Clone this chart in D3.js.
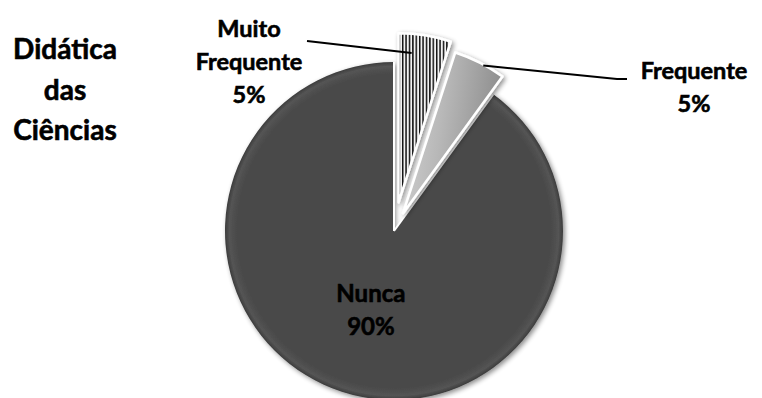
<!DOCTYPE html>
<html>
<head>
<meta charset="utf-8">
<script src="https://cdn.jsdelivr.net/npm/d3@7"></script>
<style>
  html, body { margin: 0; padding: 0; background: #fff; }
  svg { display: block; }
  text { font-family: Lato, "Open Sans", sans-serif; font-weight: 700; fill: #000;
         stroke: #000; stroke-width: 0.6px; }
</style>
</head>
<body>
<script>
// Data
const categories = ["Muito Frequente", "Frequente", "Nunca"];
const values = [5, 5, 90];
const percentLabels = ["5%", "5%", "90%"];
const titleLines = ["Didática", "das", "Ciências"];

const W = 762, H = 398;
const cx = 394, cy = 231, R = 169;
const explode = [29, 20, 0];

const svg = d3.select("body").append("svg").attr("width", W).attr("height", H);
const defs = svg.append("defs");

// soft drop shadow
const sh = defs.append("filter").attr("id", "shadow")
  .attr("x", "-20%").attr("y", "-20%").attr("width", "140%").attr("height", "140%");
sh.append("feGaussianBlur").attr("in", "SourceAlpha").attr("stdDeviation", 2.5).attr("result", "b");
sh.append("feOffset").attr("in", "b").attr("dx", 2).attr("dy", 2).attr("result", "o");
sh.append("feComponentTransfer").attr("in", "o").attr("result", "s")
  .append("feFuncA").attr("type", "linear").attr("slope", 0.45);
const m = sh.append("feMerge");
m.append("feMergeNode").attr("in", "s");
m.append("feMergeNode").attr("in", "SourceGraphic");

// vertical stripes
const pat = defs.append("pattern").attr("id", "stripes")
  .attr("patternUnits", "userSpaceOnUse").attr("width", 3.4).attr("height", 10);
pat.append("rect").attr("width", 3.4).attr("height", 10).attr("fill", "#f2f2f2");
pat.append("rect").attr("width", 1.5).attr("height", 10).attr("fill", "#111");

// dark slice with bevelled rim
const rg = defs.append("radialGradient").attr("id", "darkFill")
  .attr("gradientUnits", "userSpaceOnUse").attr("cx", 0).attr("cy", 0).attr("r", R);
[[0, "#4a4a4a"], [0.93, "#4a4a4a"], [0.975, "#545454"], [1, "#3c3c3c"]]
  .forEach(([o, c]) => rg.append("stop").attr("offset", o).attr("stop-color", c));

// light slice gradient
const lg = defs.append("linearGradient").attr("id", "lightFill")
  .attr("x1", "0%").attr("y1", "0%").attr("x2", "100%").attr("y2", "20%");
[[0, "#d4d4d4"], [0.45, "#b8b8b8"], [1, "#8e8e8e"]]
  .forEach(([o, c]) => lg.append("stop").attr("offset", o).attr("stop-color", c));

const fills = ["url(#stripes)", "url(#lightFill)", "url(#darkFill)"];

const pie = d3.pie().sort(null).value(d => d);
const arcs = pie(values);
const arc = d3.arc().innerRadius(0).outerRadius(R);

function offsetOf(i) {
  const a = (arcs[i].startAngle + arcs[i].endAngle) / 2;
  return [explode[i] * Math.sin(a), -explode[i] * Math.cos(a)];
}

const g = svg.append("g").attr("transform", `translate(${cx},${cy})`);

// large slice: no outline on the rim, white edges only along its radii
g.append("path")
  .attr("d", arc(arcs[2]))
  .attr("fill", fills[2])
  .attr("filter", "url(#shadow)");
[arcs[2].startAngle, arcs[2].endAngle].forEach(a => {
  g.append("line")
    .attr("x1", 0).attr("y1", 0)
    .attr("x2", R * Math.sin(a)).attr("y2", -R * Math.cos(a))
    .attr("stroke", "#fff").attr("stroke-width", 2);
});

// exploded slices
[0, 1].forEach(i => {
  const [dx, dy] = offsetOf(i);
  g.append("path")
    .attr("transform", `translate(${dx},${dy})`)
    .attr("d", arc(arcs[i]))
    .attr("fill", fills[i])
    .attr("stroke", "#fff")
    .attr("stroke-width", 2.5)
    .attr("stroke-linejoin", "round")
    .attr("filter", "url(#shadow)");
});

// leader line anchor on a slice
function anchor(i, angDeg, r) {
  const [dx, dy] = offsetOf(i);
  const a = angDeg * Math.PI / 180;
  return [cx + dx + r * Math.sin(a), cy + dy - r * Math.cos(a)];
}

const line = d3.line();
const a0 = anchor(0, 5, 150);
svg.append("path").attr("d", line([[307, 41], a0]))
  .attr("fill", "none").attr("stroke", "#000").attr("stroke-width", 2);
const a1 = anchor(1, 28.5, 168);
svg.append("path").attr("d", line([[627, 79], [617, 79], a1]))
  .attr("fill", "none").attr("stroke", "#000").attr("stroke-width", 2);

// labels
function block(x, baselines, lines, size) {
  const t = svg.append("text").attr("text-anchor", "middle").style("font-size", size + "px");
  lines.forEach((s, k) => t.append("tspan").attr("x", x).attr("y", baselines[k]).text(s));
}

block(65, [59, 100, 140], titleLines, 28);
block(249, [37, 70, 103], ["Muito", "Frequente", percentLabels[0]], 23.5);
block(694, [79, 112], [categories[1], percentLabels[1]], 23.5);
const c2 = arc.centroid(arcs[2]);
block(cx + c2[0] + 3, [302, 335], [categories[2], percentLabels[2]], 24);
</script>
</body>
</html>
